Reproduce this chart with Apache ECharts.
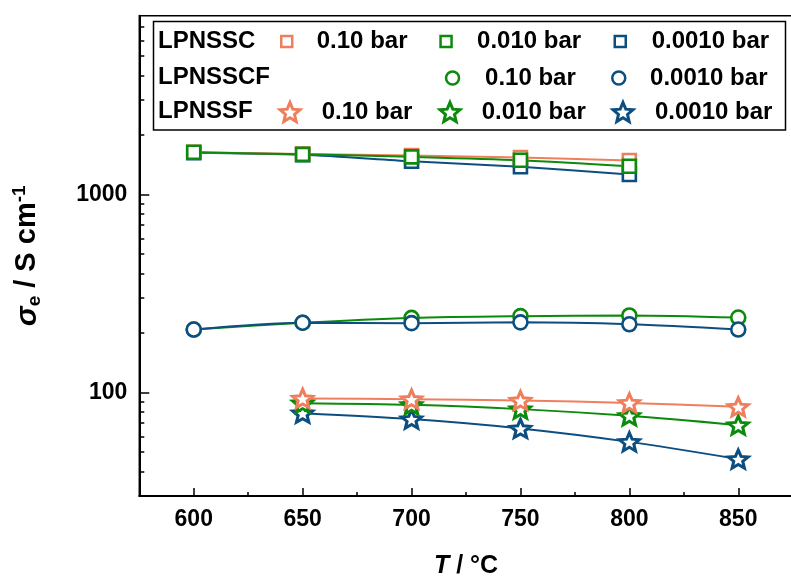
<!DOCTYPE html>
<html>
<head>
<meta charset="utf-8">
<script src="https://cdn.jsdelivr.net/npm/echarts@6/dist/echarts.min.js"></script>
<style>
  html, body { margin: 0; padding: 0; background: #fff; }
  #chart { width: 791px; height: 581px; }
</style>
</head>
<body>
<div id="chart"></div>
<script>
// Electronic conductivity vs. temperature, log scale
const tempsSC  = [600, 650, 700, 750, 800];
const tempsSCF = [600, 650, 700, 750, 800, 850];
const tempsSF  = [650, 700, 750, 800, 850];

const lpnssc_010   = [1634, 1600, 1573, 1537, 1484];
const lpnssc_0010  = [1634, 1595, 1549, 1489, 1389];
const lpnssc_00010 = [1625, 1587, 1472, 1380, 1262];

const lpnsscf_010   = [208, 225, 238, 243, 245, 239];
const lpnsscf_00010 = [208, 225, 224, 226, 221, 208];

const lpnssf_010   = [93.3, 92.5, 91.1, 88.6, 84.6];
const lpnssf_0010  = [88.3, 86.6, 82.4, 76.2, 68.4];
const lpnssf_00010 = [78.6, 73.4, 65.8, 56.3, 46.1];

const xTicks = [600, 650, 700, 750, 800, 850];
const xMinorTicks = [625, 675, 725, 775, 825];
const yTicks = [100, 1000];
const yMinorTicks = [40, 50, 60, 70, 80, 90, 200, 300, 400, 500, 600, 700, 800, 900,
                     2000, 3000, 4000, 5000, 6000, 7000];

const ORANGE = '#EF7F5C';
const GREEN = '#0B8A0B';
const BLUE = '#0D4E80';
const FONT = '"Liberation Sans", Arial, Helvetica, sans-serif';
const STAR = 'path://M0,-10L2.645,-3.641L9.511,-3.090L4.280,1.391L5.878,8.090L0,4.5L-5.878,8.090L-4.280,1.391L-9.511,-3.090L-2.645,-3.641Z';

function pairs(xs, ys) { return xs.map((x, i) => [x, ys[i]]); }

function makeSeries(name, xs, ys, color, symbol, size, bw) {
  return {
    name: name,
    type: 'line',
    data: pairs(xs, ys),
    smooth: 0.3,
    symbol: symbol,
    symbolSize: size,
    symbolKeepAspect: true,
    showAllSymbol: true,
    lineStyle: { color: color, width: 2 },
    itemStyle: { color: '#fff', borderColor: color, borderWidth: bw },
    emphasis: { disabled: true }
  };
}

const SQ = 13, CI = 14, ST = [20, 19];
const series = [
  makeSeries('LPNSSC 0.0010 bar', tempsSC, lpnssc_00010, BLUE, 'rect', SQ, 2.6),
  makeSeries('LPNSSC 0.10 bar', tempsSC, lpnssc_010, ORANGE, 'rect', SQ, 2.6),
  makeSeries('LPNSSC 0.010 bar', tempsSC, lpnssc_0010, GREEN, 'rect', SQ, 2.6),
  makeSeries('LPNSSCF 0.10 bar', tempsSCF, lpnsscf_010, GREEN, 'circle', CI, 2.6),
  makeSeries('LPNSSCF 0.0010 bar', tempsSCF, lpnsscf_00010, BLUE, 'circle', CI, 2.6),
  makeSeries('LPNSSF 0.0010 bar', tempsSF, lpnssf_00010, BLUE, STAR, ST, 3),
  makeSeries('LPNSSF 0.010 bar', tempsSF, lpnssf_0010, GREEN, STAR, ST, 3),
  makeSeries('LPNSSF 0.10 bar', tempsSF, lpnssf_010, ORANGE, STAR, ST, 3)
];

// one legend block per entry so each can sit in its own cell of the key
function legendItem(name, icon, w, h, color, left, top, gap, bw) {
  return {
    data: [{ name: name, icon: icon }],
    left: left, top: top, padding: 0,
    itemWidth: w, itemHeight: h,
    symbolKeepAspect: true,
    selectedMode: false,
    itemStyle: { color: '#fff', borderColor: color, borderWidth: bw },
    formatter: n => n.replace(/^\S+\s/, ''),
    textStyle: { fontFamily: FONT, fontWeight: 'bold', fontSize: 24, color: '#000',
                 lineHeight: 24, padding: [0, 0, 0, gap] }
  };
}

const legends = [
  legendItem('LPNSSC 0.10 bar', 'rect', 11, 11, ORANGE, 280, 29.5, 19.5, 2.5),
  legendItem('LPNSSC 0.010 bar', 'rect', 11, 11, GREEN, 439.3, 29.5, 20.5, 2.5),
  legendItem('LPNSSC 0.0010 bar', 'rect', 11, 11, BLUE, 613.5, 29.5, 20.9, 2.5),
  legendItem('LPNSSCF 0.10 bar', 'circle', 13, 13, GREEN, 444.8, 66, 21, 2.5),
  legendItem('LPNSSCF 0.0010 bar', 'circle', 13, 13, BLUE, 611, 66, 19.8, 2.5),
  legendItem('LPNSSF 0.10 bar', STAR, 20, 19, ORANGE, 278.5, 100, 16.7, 3),
  legendItem('LPNSSF 0.010 bar', STAR, 20, 19, GREEN, 438.5, 100, 16.7, 3),
  legendItem('LPNSSF 0.0010 bar', STAR, 20, 19, BLUE, 611.5, 100, 17, 3)
];

const rowHeader = (text, y) => ({
  type: 'text', left: 158, top: y, z: 10,
  style: { text: text, font: 'bold 24px ' + FONT, fill: '#000' }
});

const chart = echarts.init(document.getElementById('chart'), null, { renderer: 'canvas' });
chart.setOption({
  animation: false,
  backgroundColor: '#fff',
  grid: { left: 139.3, top: 15.7, width: 653.4, height: 480.3, show: true,
          containLabel: false, outerBoundsMode: 'none',
          borderColor: '#000', borderWidth: 1.5, backgroundColor: 'transparent' },
  legend: legends,
  xAxis: [{
    type: 'value', min: 575, max: 875,
    name: '{t|T}{n| / °C}', nameLocation: 'middle', nameGap: 58,
    nameTextStyle: {
      rich: {
        t: { fontFamily: FONT, fontWeight: 'bold', fontStyle: 'italic', fontSize: 25, color: '#000' },
        n: { fontFamily: FONT, fontWeight: 'bold', fontSize: 25, color: '#000' }
      }
    },
    axisLine: { show: true, onZero: false, lineStyle: { color: '#000', width: 2 } },
    axisTick: { show: true, inside: true, length: 8, customValues: xTicks,
                lineStyle: { color: '#000', width: 1.5 } },
    axisLabel: { customValues: xTicks, margin: 12, fontFamily: FONT, fontWeight: 'bold',
                 fontSize: 23, color: '#000', formatter: v => String(v) },
    splitLine: { show: false }
  }, {
    type: 'value', min: 575, max: 875, position: 'bottom',
    axisLine: { show: false },
    axisTick: { show: true, inside: true, length: 4, customValues: xMinorTicks,
                lineStyle: { color: '#000', width: 1.5 } },
    axisLabel: { show: false },
    splitLine: { show: false }
  }],
  yAxis: [{
    type: 'log', logBase: 10, min: 30, max: 8000,
    name: '{s|σ}{sub|e}{n| / S cm}{sup|-1}', nameLocation: 'middle', nameGap: 95,
    nameTextStyle: {
      rich: {
        s: { fontFamily: FONT, fontWeight: 'bold', fontStyle: 'italic', fontSize: 30, lineHeight: 34, color: '#000' },
        sub: { fontFamily: FONT, fontWeight: 'bold', fontSize: 19, lineHeight: 19, verticalAlign: 'bottom', color: '#000' },
        n: { fontFamily: FONT, fontWeight: 'bold', fontSize: 29, lineHeight: 34, color: '#000' },
        sup: { fontFamily: FONT, fontWeight: 'bold', fontSize: 19, lineHeight: 19, verticalAlign: 'top', color: '#000' }
      }
    },
    axisLine: { show: true, onZero: false, lineStyle: { color: '#000', width: 2 } },
    axisTick: { show: true, inside: true, length: 10, customValues: yTicks,
                lineStyle: { color: '#000', width: 1.5 } },
    axisLabel: { customValues: yTicks, margin: 12, fontFamily: FONT, fontWeight: 'bold',
                 fontSize: 23, color: '#000', formatter: v => String(v) },
    splitLine: { show: false }
  }, {
    type: 'log', logBase: 10, min: 30, max: 8000, position: 'left',
    axisLine: { show: false },
    axisTick: { show: true, inside: true, length: 5, customValues: yMinorTicks,
                lineStyle: { color: '#000', width: 1.5 } },
    axisLabel: { show: false },
    splitLine: { show: false }
  }],
  graphic: [
    { type: 'rect', z: 5, shape: { x: 153.5, y: 21.5, width: 632, height: 108.5 },
      style: { fill: 'transparent', stroke: '#000', lineWidth: 1.5 } },
    rowHeader('LPNSSC', 29),
    rowHeader('LPNSSCF', 65.5),
    rowHeader('LPNSSF', 99.5)
  ],
  series: series
});
</script>
</body>
</html>
